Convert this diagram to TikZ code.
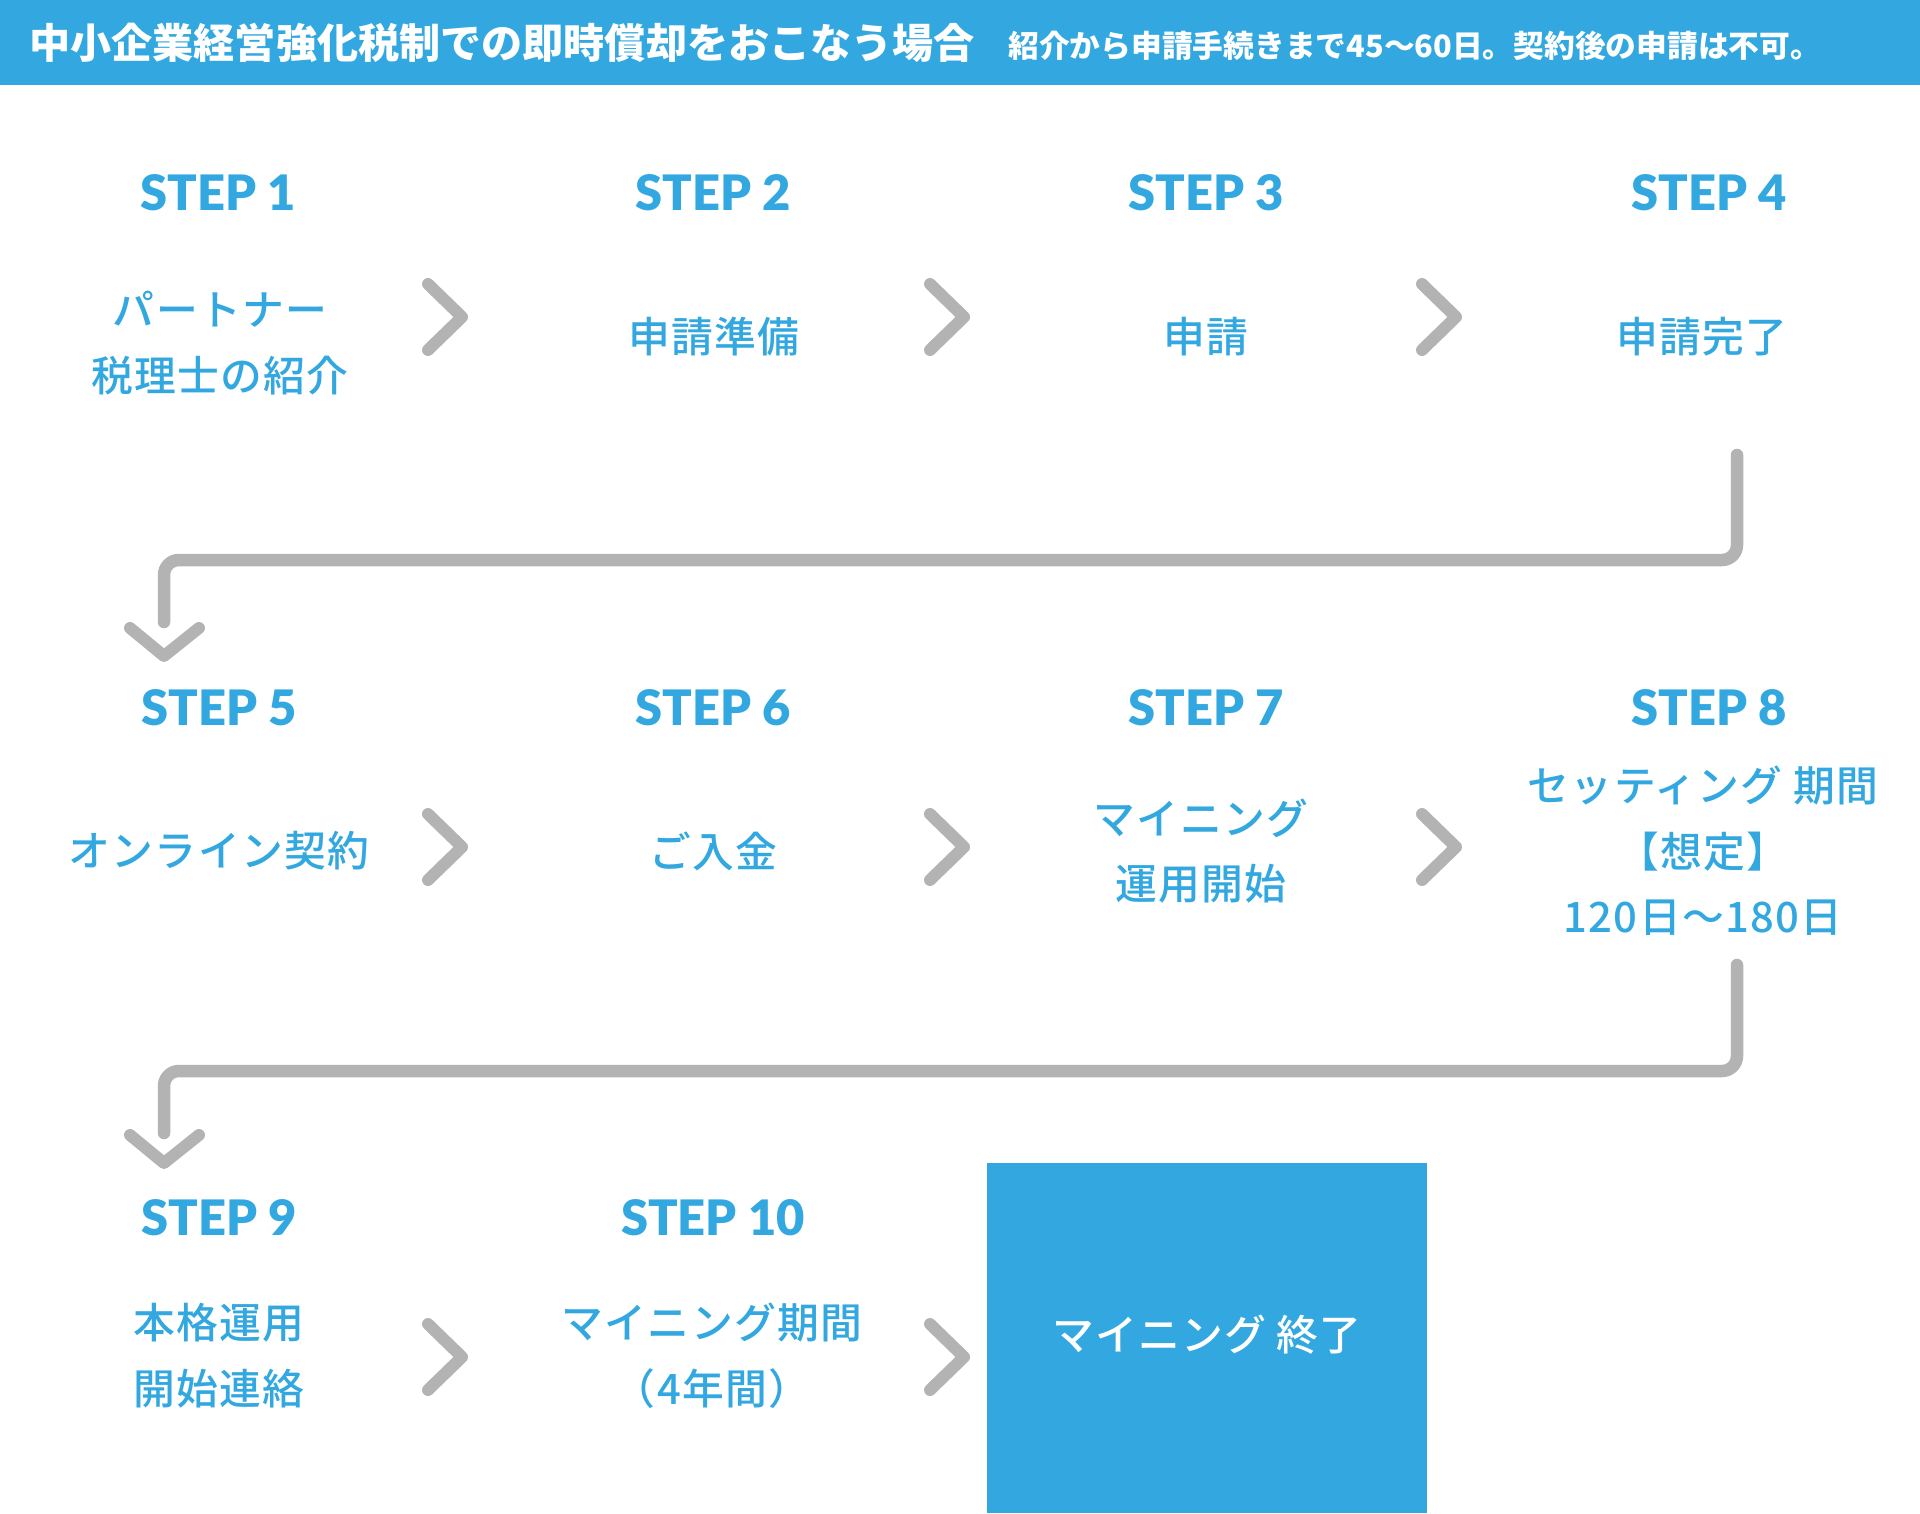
\documentclass[tikz,border=0pt]{standalone}
\usepackage{fontspec}
\usepackage{tikz}
\newfontfamily\jpfont{Noto Sans CJK JP}
\newfontfamily\jpbody{Noto Sans CJK JP Medium}[LetterSpace=3]
\newfontfamily\stepfont{Lato Black}

\begin{document}
\begin{tikzpicture}[x=0.02cm, y=-0.02cm]

\definecolor{stepblue}{RGB}{51,168,224}
\definecolor{chevgray}{RGB}{179,179,179}

\tikzset{
  steplabel/.style={font=\stepfont\fontsize{27.8}{30}\selectfont, text=stepblue, inner sep=0pt},
  stepbody/.style={font=\jpbody\fontsize{23.8}{37.4}\selectfont, text=stepblue, align=center, inner sep=0pt},
  chev/.style={chevgray, line width=0.24cm, line cap=round, line join=round},
  bendline/.style={chevgray, line width=0.25cm, line cap=round, line join=round, rounded corners=0.3cm}
}

\useasboundingbox (0,0) rectangle (1920,1514);

% ── Header ──
\fill[stepblue] (0,0) rectangle (1920,85);
\node[font=\jpfont\bfseries\fontsize{23.4}{26}\selectfont, white, anchor=west, inner sep=0pt] (title) at (29,43) {中小企業経営強化税制での即時償却をおこなう場合};
\node[font=\jpfont\bfseries\fontsize{17.5}{20}\selectfont, white, anchor=west, inner sep=0pt] (subtitle) at (1008,46) {紹介から申請手続きまで45～60日。契約後の申請は不可。};

% ── STEP labels ──
\foreach \n/\x/\y in {1/218/193, 2/713/193, 3/1206/193, 4/1709/193,
                      5/219/708, 6/713/708, 7/1206/708, 8/1709/708,
                      9/219/1218, 10/713/1218} {
  \node[steplabel] (s\n) at (\x,\y) {STEP \n};
}

% ── Step texts ──
\node[stepbody] (t1) at (220,343) {パートナー\\税理士の紹介};
\node[stepbody] (t2) at (714,337) {申請準備};
\node[stepbody] (t3) at (1206,337) {申請};
\node[stepbody] (t4) at (1702,337) {申請完了};

\node[stepbody] (t5) at (219,851) {オンライン契約};
\node[stepbody] (t6) at (713,851) {ご入金};
\node[stepbody] (t7) at (1201,851) {マイニング\\運用開始};
\node[stepbody] (t8) at (1703,851) {セッティング 期間\\【想定】\\120日～180日};

\node[stepbody] (t9) at (219,1356) {本格運用\\開始連絡};
\node[stepbody] (t10) at (712,1356) {マイニング期間\\（4年間）};

% ── Final box ──
\fill[stepblue] (987,1163) rectangle (1427,1513);
\node[font=\jpbody\fontsize{23.8}{30}\selectfont, white, inner sep=0pt] (fin) at (1207,1335) {マイニング 終了};

% ── Chevrons between steps ──
\foreach \cx/\cy in {445/317, 947/317, 1439/317,
                     445/847, 947/847, 1439/847,
                     445/1357, 947/1357} {
  \coordinate (ch) at (\cx,\cy);
  \draw[chev] ([shift={(-17,-33)}]ch) -- ++(34,33) -- ++(-34,33);
}

% ── Row turns ──
\coordinate (up4) at (1737,455);
\coordinate (dn5) at (164,622);
\coordinate (tip5) at (164,656);
\draw[bendline] (up4) -- ++(0,105) -| (dn5);
\draw[chev] ([shift={(-34,-28)}]tip5) -- (tip5) -- ++(35,-28);

\coordinate (up8) at (1737,965);
\coordinate (dn9) at (164,1133);
\coordinate (tip9) at (164,1163);
\draw[bendline] (up8) -- ++(0,106) -| (dn9);
\draw[chev] ([shift={(-34,-28)}]tip9) -- (tip9) -- ++(35,-28);

\end{tikzpicture}
\end{document}
